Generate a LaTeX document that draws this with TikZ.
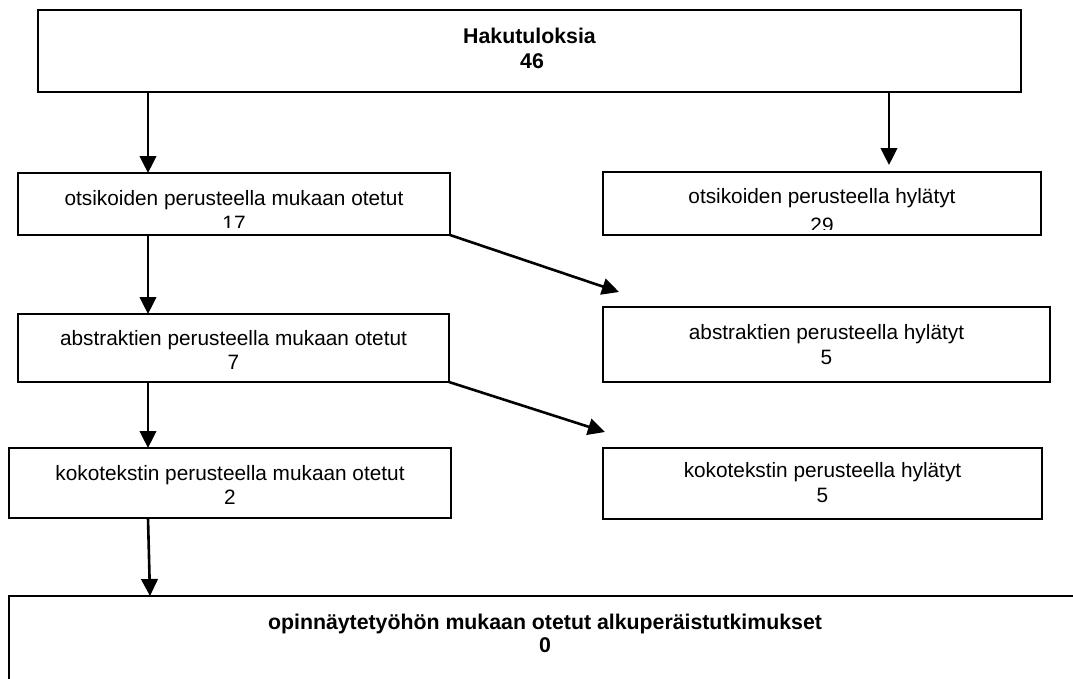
\documentclass[tikz,border=0pt]{standalone}
\usepackage{fontspec}
\setmainfont{Liberation Sans}
\usetikzlibrary{arrows.meta}
\begin{document}
\begin{tikzpicture}[x=1pt,y=-1pt,
  box/.style={draw, line width=2pt, inner sep=0pt, outer sep=0pt},
  txt/.style={inner sep=0pt, anchor=base, font=\fontsize{20.8}{24}\selectfont},
  btxt/.style={inner sep=0pt, anchor=base, font=\fontsize{21.3}{24}\selectfont\bfseries},
  arr/.style={line width=2.6pt, -{Triangle[length=17pt,width=16.5pt]}}]
\useasboundingbox (0,0) rectangle (1073,678);
% boxes
\node[box, minimum width=983pt, minimum height=82pt] (top) at (529.5,51) {};
\node[box, minimum width=432pt, minimum height=62pt] (b2) at (234,204) {};
\node[box, minimum width=438pt, minimum height=63pt] (r1) at (822,203.5) {};
\node[box, minimum width=431pt, minimum height=68pt] (b3) at (233.5,348) {};
\node[box, minimum width=447pt, minimum height=75pt] (r2) at (826.5,344.5) {};
\node[box, minimum width=442pt, minimum height=70pt] (b4) at (230,483) {};
\node[box, minimum width=439pt, minimum height=71pt] (r3) at (822.5,483.5) {};
\node[box, minimum width=1072pt, minimum height=104pt] (bot) at (545,648) {};
% texts
\node[btxt] (t1a) at (529.5,43) {Hakutuloksia};
\node[btxt] (t1b) at (532,68) {46};
\begin{scope}
\clip (20,175) rectangle (448,227);
\node[txt] (t2a) at (234,205) {otsikoiden perusteella mukaan otetut};
\node[txt] (t2b) at (234,230) {17};
\end{scope}
\begin{scope}
\clip (605,174) rectangle (1039,229);
\node[txt] (t3a) at (822,203) {otsikoiden perusteella hylätyt};
\node[txt] (t3b) at (822,232) {29};
\end{scope}
\node[txt] (t4a) at (233.5,345) {abstraktien perusteella mukaan otetut};
\node[txt] (t4b) at (233.5,369) {7};
\node[txt] (t5a) at (826.5,339) {abstraktien perusteella hylätyt};
\node[txt] (t5b) at (826.5,364) {5};
\node[txt] (t6a) at (230,480) {kokotekstin perusteella mukaan otetut};
\node[txt] (t6b) at (230,504) {2};
\node[txt] (t7a) at (822.5,477) {kokotekstin perusteella hylätyt};
\node[txt] (t7b) at (822.5,502) {5};
\node[btxt] (t8a) at (545,629) {opinnäytetyöhön mukaan otetut alkuperäistutkimukset};
\node[btxt] (t8b) at (545,652) {0};
% connectors
\coordinate (r1tip) at (889,165);
\coordinate (d1tip) at (619,292);
\coordinate (d2tip) at (605,432);
\draw[arr] (148,0 |- top.south) -- (148,0 |- b2.north);
\draw[arr] (889,0 |- top.south) -- (r1tip);
\draw[arr] (148,0 |- b2.south) -- (148,0 |- b3.north);
\draw[arr] (b2.south east) -- (d1tip);
\draw[arr] (148,0 |- b3.south) -- (148,0 |- b4.north);
\draw[arr] (b3.south east) -- (d2tip);
\draw[arr] (148,0 |- b4.south) -- (150,0 |- bot.north);
\end{tikzpicture}
\end{document}
